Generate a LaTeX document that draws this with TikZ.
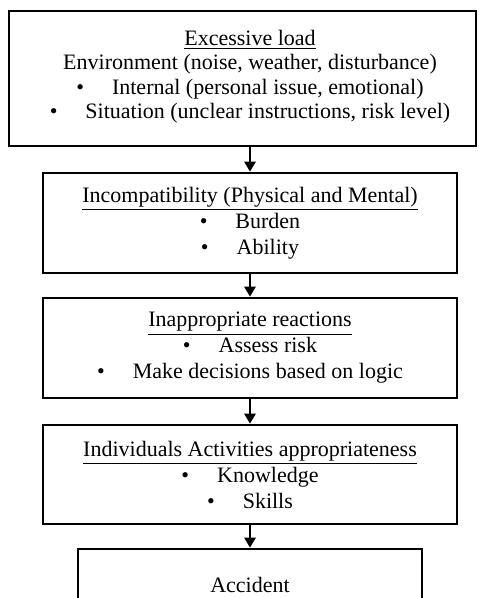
\documentclass[tikz,border=0pt]{standalone}
\usepackage{fontspec}
\setmainfont{Liberation Serif}
\usepackage{tikz}
\usetikzlibrary{arrows.meta}
\newcommand{\itm}[1]{\textbullet\hspace{14pt}#1}

\begin{document}
\begin{tikzpicture}[x=0.5pt,y=-0.5pt,
  box/.style={draw,line width=1.3pt,inner sep=0pt,minimum width=207pt,minimum height=50pt,align=center,font=\fontsize{11}{13}\selectfont},
  flow/.style={line width=1.3pt,-{Triangle[width=5.5pt,length=5pt]}}]
\useasboundingbox (0,0) rectangle (478,598);
\node[box,minimum width=233.5pt,minimum height=67.5pt] (load) at (242.5,78.5) {};
\node[align=center,font=\fontsize{11}{12.25}\selectfont] (loadtext) at (250,76.5) {\underline{Excessive load}\\Environment (noise, weather, disturbance)\\\itm{Internal (personal issue, emotional)}\\\itm{Situation (unclear instructions, risk level)}};
\node[box] (incomp) at (250,223) {\underline{Incompatibility (Physical and Mental)}\\\itm{Burden}\\\itm{Ability}};
\node[box] (react) at (250,348) {\underline{Inappropriate reactions}\\\itm{Assess risk}\\\itm{Make decisions based on logic}};
\node[box,minimum height=49.5pt] (activ) at (250,474.5) {\underline{Individuals Activities appropriateness}\\\itm{Knowledge}\\\itm{Skills}};
\node[box,minimum width=172pt,minimum height=35.5pt] (accident) at (250,584.5) {Accident};
\draw[flow] (incomp.north |- load.south)--(incomp.north);
\draw[flow] (incomp.south)--(react.north);
\draw[flow] (react.south)--(activ.north);
\draw[flow] (activ.south)--(accident.north);
\end{tikzpicture}
\end{document}
